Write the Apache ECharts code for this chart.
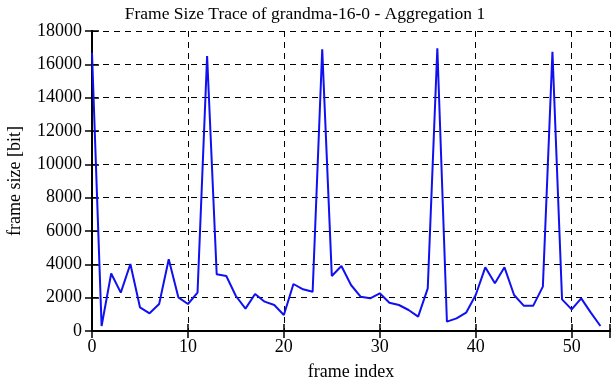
<!DOCTYPE html>
<html><head><meta charset="utf-8">
<script src="https://cdn.jsdelivr.net/npm/echarts@6/dist/echarts.min.js"></script>
<style>html,body{margin:0;padding:0;background:#fff}#c{width:612px;height:382px}</style>
</head><body><div id="c"></div>
<script>
var frameIndex = [];
for (var i = 0; i <= 53; i++) frameIndex.push(i);
var frameSize = [16700, 300, 3450, 2300, 4020, 1420, 1060, 1620, 4300, 2020,
  1620, 2300, 16500, 3400, 3300, 2100, 1340, 2220, 1760, 1560,
  960, 2820, 2500, 2360, 16900, 3300, 3900, 2760, 2060, 1960,
  2260, 1700, 1560, 1260, 860, 2560, 16960, 560, 760, 1100,
  2160, 3820, 2860, 3820, 2160, 1520, 1520, 2660, 16760, 1900,
  1300, 1960, 1100, 300];
var titleText = 'Frame Size Trace of grandma-16-0 - Aggregation 1';
var xName = 'frame index';
var yName = 'frame size [bit]';

var font = 'Liberation Serif';
var data = frameIndex.map(function (x, i) { return [x, frameSize[i]]; });
var chart = echarts.init(document.getElementById('c'));
var tick = {show: true, inside: true, length: 7, lineStyle: {color: '#000', width: 1.5}};
chart.setOption({
  animation: false,
  title: {text: titleText, left: 300, textAlign: 'center', top: 0, textStyle: {fontFamily: font, fontSize: 17.5, fontWeight: 'normal', color: '#000'}},
  grid: {left: 92, right: 2, top: 31, bottom: 51, containLabel: false, outerBoundsMode: 'none'},
  xAxis: [{
    type: 'value', min: 0, max: 54, interval: 10,
    name: xName, nameLocation: 'middle', nameGap: 32,
    nameTextStyle: {fontFamily: font, fontSize: 18, color: '#000'},
    axisLine: {lineStyle: {color: '#000', width: 2}},
    axisTick: tick,
    axisLabel: {fontFamily: font, fontSize: 18, color: '#000', margin: 7,
      formatter: function (v) { return v % 10 === 0 ? String(v) : ''; }},
    splitLine: {show: true, lineStyle: {color: '#000', type: [6, 5], width: 1}}
  }, {
    type: 'value', min: 0, max: 54, interval: 10, position: 'top',
    axisLine: {lineStyle: {color: '#000', width: 2}},
    axisTick: tick, axisLabel: {show: false}, splitLine: {show: false}
  }],
  yAxis: [{
    type: 'value', min: 0, max: 18000, interval: 2000,
    name: yName, nameLocation: 'middle', nameGap: 68,
    nameTextStyle: {fontFamily: font, fontSize: 18, color: '#000'},
    axisLine: {show: true, lineStyle: {color: '#000', width: 2}},
    axisTick: tick,
    axisLabel: {fontFamily: font, fontSize: 18, color: '#000', margin: 10,
      formatter: function (v) { return String(v); }},
    splitLine: {show: true, lineStyle: {color: '#000', type: [6, 5], width: 1}}
  }, {
    type: 'value', min: 0, max: 18000, interval: 2000, position: 'right',
    axisLine: {show: true, lineStyle: {color: '#000', width: 2}},
    axisTick: tick, axisLabel: {show: false}, splitLine: {show: false}
  }],
  series: [{
    type: 'line', data: data, showSymbol: false, symbol: 'none',
    lineStyle: {color: '#1010f0', width: 2}, z: 1
  }]
});
</script></body></html>
